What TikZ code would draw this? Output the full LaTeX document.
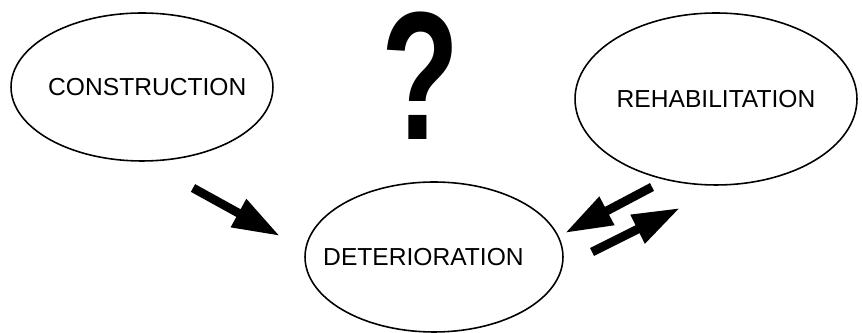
\documentclass[tikz,border=0pt]{standalone}
\usepackage{fontspec}
\setmainfont{Liberation Sans}
\usetikzlibrary{shapes.geometric,arrows.meta}

\begin{document}
\begin{tikzpicture}[x=0.02cm, y=-0.02cm,
    stage/.style={draw, ellipse, line width=0.9pt, inner sep=0pt, font=\fontsize{14}{16}\selectfont},
    bigarrow/.style={line width=5pt, -{Triangle[length=27pt, width=17pt]}}]
    \useasboundingbox (0,0) rectangle (862,333);
    \node[stage, minimum width=5.24cm, minimum height=2.96cm] (con) at (142,87) {\makebox[0pt]{\hspace{6pt}CONSTRUCTION}};
    \node[stage, minimum width=5.64cm, minimum height=3.44cm] (reh) at (716,99) {\makebox[0pt]{REHABILITATION}};
    \node[stage, minimum width=5.16cm, minimum height=3.0cm] (det) at (434,257) {\makebox[0pt]{DETERIORATION\hspace{12pt}}};
    \node[font=\fontsize{104}{104}\bfseries, xscale=0.7, inner sep=0pt] (q) at (421,76) {?};
    % arrows between the stages
    \coordinate (a1) at (193,188);
    \coordinate (b1) at (280,236);
    \coordinate (a2) at (652,187);
    \coordinate (b2) at (565,233);
    \coordinate (a3) at (592,252);
    \coordinate (b3) at (680,208);
    \draw[bigarrow] (a1) -- (b1);
    \draw[bigarrow] (a2) -- (b2);
    \draw[bigarrow] (a3) -- (b3);
\end{tikzpicture}
\end{document}
